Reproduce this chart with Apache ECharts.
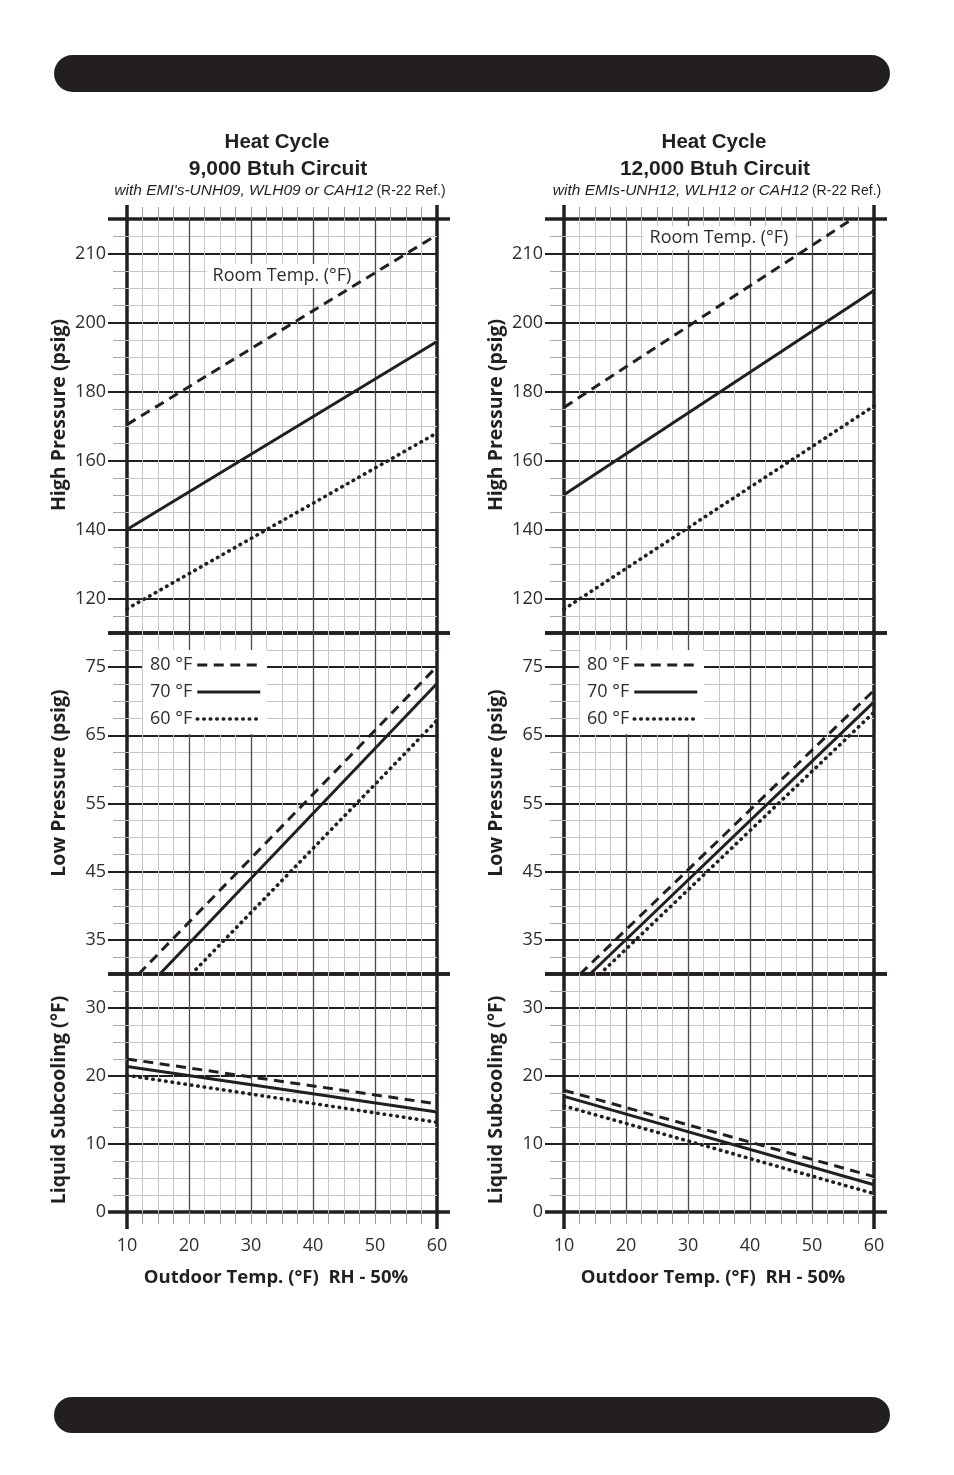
<!DOCTYPE html>
<html lang="en">
<head>
<meta charset="UTF-8">
<title>Heat Cycle charts</title>
<script src="https://cdn.jsdelivr.net/npm/echarts@6/dist/echarts.min.js"></script>
<style>
  html, body { margin: 0; padding: 0; background: #fff; }
  #chart { width: 954px; height: 1475px; }
</style>
</head>
<body>
<div id="chart"></div>
<script>
// room temperature curves (legend)
var roomTemps = ['80 °F', '70 °F', '60 °F'];

// y axis values that carry a label, and the text printed there
// (the original prints "210" on the 220 line)
var highTicks = [120, 140, 160, 180, 200, 220];
var highLabels = ['120', '140', '160', '180', '200', '210'];
var lowTicks = [35, 45, 55, 65, 75];
var subTicks = [0, 10, 20, 30];
var outdoorTicks = [10, 20, 30, 40, 50, 60];

// 9,000 Btuh circuit, [outdoor temp, value]
var high9k_80 = [[10, 170.4], [60, 225.4]];
var high9k_70 = [[10, 140.0], [60, 194.5]];
var high9k_60 = [[10, 117.0], [60, 168.0]];
var low9k_80 = [[11.9, 30], [60, 75.1]];
var low9k_70 = [[15.3, 30], [60, 72.6]];
var low9k_60 = [[20.4, 30], [60, 67.2]];
var sub9k_80 = [[10, 22.5], [60, 15.9]];
var sub9k_70 = [[10, 21.4], [60, 14.7]];
var sub9k_60 = [[10, 20.1], [60, 13.2]];

// 12,000 Btuh circuit
var high12k_80 = [[10, 175.4], [56.5, 230]];
var high12k_70 = [[10, 150.1], [60, 209.3]];
var high12k_60 = [[10, 116.9], [60, 175.8]];
var low12k_80 = [[12.6, 30], [60, 71.6]];
var low12k_70 = [[14.2, 30], [60, 69.9]];
var low12k_60 = [[15.8, 30], [60, 68.4]];
var sub12k_80 = [[10, 17.9], [60, 5.2]];
var sub12k_70 = [[10, 17.0], [60, 4.0]];
var sub12k_60 = [[10, 15.6], [60, 2.7]];

var INK = '#231f20';
var TXT = '#2d2d2d';
var MINOR = '#c6c6c6';
var FONT = '"Open Sans", sans-serif';
var HEAD = '"Liberation Sans", Arial, sans-serif';
var PLOT_W = 310;
var lineStyles = [
    { width: 3, type: [10, 6.5] },
    { width: 3, type: 'solid' },
    { width: 3.6, type: [0.5, 6], cap: 'round' }
];

var rows = [
    { name: 'High Pressure (psig)', min: 110, max: 230, step: 5, ticks: highTicks, text: highLabels, top: 219, height: 414, nameY: 415 },
    { name: 'Low Pressure (psig)', min: 30, max: 80, step: 2.5, ticks: lowTicks, text: null, top: 633, height: 341, nameY: 783 },
    { name: 'Liquid Subcooling (°F)', min: 0, max: 35, step: 2.5, ticks: subTicks, text: null, top: 974, height: 238, nameY: 1100 }
];

var panels = [
    { left: 127, circuit: '9,000 Btuh Circuit', models: "with EMI's-UNH09, WLH09 or CAH12", roomY: 276,
      data: [[high9k_80, high9k_70, high9k_60], [low9k_80, low9k_70, low9k_60], [sub9k_80, sub9k_70, sub9k_60]] },
    { left: 564, circuit: '12,000 Btuh Circuit', models: 'with EMIs-UNH12, WLH12 or CAH12', roomY: 238,
      data: [[high12k_80, high12k_70, high12k_60], [low12k_80, low12k_70, low12k_60], [sub12k_80, sub12k_70, sub12k_60]] }
];

var option = {
    animation: false,
    backgroundColor: '#fff',
    grid: [], xAxis: [], yAxis: [], series: [], legend: [], graphic: []
};

function hidden() { return { show: false }; }

function xAxisFor(g, pos, interval, tick, split, label) {
    return {
        type: 'value', gridIndex: g, position: pos, min: 10, max: 60, interval: interval,
        axisLine: hidden(),
        axisTick: tick || hidden(),
        axisLabel: label || hidden(),
        splitLine: split || hidden()
    };
}

panels.forEach(function (p) {
    var cx = p.left + PLOT_W / 2;
    rows.forEach(function (r, ri) {
        var g = option.grid.length;
        var isTop = ri === 0, isBottom = ri === rows.length - 1;
        option.grid.push({
            left: p.left, top: r.top, width: PLOT_W, height: r.height,
            show: true, borderWidth: 3.5, borderColor: INK, backgroundColor: 'rgba(0,0,0,0)'
        });

        var xi = option.xAxis.length;
        // minor verticals every 2.5
        option.xAxis.push(xAxisFor(g, 'bottom', 2.5,
            isBottom ? { show: true, length: 12, lineStyle: { color: '#9a9a9a', width: 1 } } : null,
            { show: true, showMinLine: false, showMaxLine: false, lineStyle: { color: MINOR, width: 1 } }));
        // major verticals every 10
        option.xAxis.push(xAxisFor(g, 'bottom', 10, null,
            { show: true, showMinLine: false, showMaxLine: false, lineStyle: { color: '#4a4a4a', width: 1.3 } },
            isBottom ? { show: true, margin: 25, fontSize: 18, color: TXT, fontFamily: FONT,
                         customValues: outdoorTicks } : null));
        if (isBottom) {
            option.xAxis.push(xAxisFor(g, 'bottom', 50,
                { show: true, customValues: [10, 60], length: 17, lineStyle: { color: INK, width: 3.5 } }));
        }
        if (isTop) {
            option.xAxis.push(xAxisFor(g, 'top', 2.5,
                { show: true, length: 12, lineStyle: { color: '#9a9a9a', width: 1 } }));
            option.xAxis.push(xAxisFor(g, 'top', 50,
                { show: true, customValues: [10, 60], length: 14, lineStyle: { color: INK, width: 3.5 } }));
        }

        var yi = option.yAxis.length;
        option.yAxis.push({
            type: 'value', gridIndex: g, position: 'left', min: r.min, max: r.max, interval: r.step,
            axisLine: hidden(), axisLabel: hidden(),
            axisTick: { show: true, length: 14, lineStyle: { color: '#a8a8a8', width: 1 } },
            splitLine: { show: true, showMinLine: false, showMaxLine: false, lineStyle: { color: MINOR, width: 1 } }
        });
        option.yAxis.push({
            type: 'value', gridIndex: g, position: 'left', min: r.min, max: r.max,
            axisLine: hidden(),
            axisTick: { show: true, customValues: r.ticks, length: 19, lineStyle: { color: INK, width: 2 } },
            axisLabel: {
                show: true, customValues: r.ticks, margin: 21, fontSize: 18, color: TXT, fontFamily: FONT,
                formatter: function (v) {
                    var i = r.ticks.indexOf(v);
                    if (i < 0) return '';
                    return r.text ? r.text[i] : String(v);
                }
            },
            splitLine: { show: true, lineStyle: { color: INK, width: 2 } }
        });
        ['left', 'right'].forEach(function (side) {
            option.yAxis.push({
                type: 'value', gridIndex: g, position: side, min: r.min, max: r.max,
                axisLine: hidden(), axisLabel: hidden(), splitLine: hidden(),
                axisTick: { show: true, customValues: [r.min, r.max], length: side === 'left' ? 19 : 13,
                            lineStyle: { color: INK, width: 3.5 } }
            });
        });

        p.data[ri].forEach(function (d, k) {
            option.series.push({
                type: 'line', name: roomTemps[k], xAxisIndex: xi, yAxisIndex: yi,
                data: d, symbol: 'none', silent: true, clip: true, z: 5,
                lineStyle: Object.assign({ color: INK }, lineStyles[k]),
                itemStyle: { color: INK }
            });
        });

        // axis title
        option.graphic.push({
            type: 'text', x: p.left - 68, y: r.nameY, rotation: Math.PI / 2, z: 10,
            style: { text: r.name, fontSize: 19.5, fontWeight: 'bold', fontFamily: FONT, fill: INK,
                     align: 'center', verticalAlign: 'middle' }
        });
    });

    option.legend.push({
        left: p.left + 16, top: 650, orient: 'vertical', align: 'right',
        data: roomTemps.map(function (name, k) {
            return { name: name, lineStyle: Object.assign({ color: INK }, lineStyles[k]) };
        }),
        selectedMode: false,
        itemWidth: 63, itemHeight: 18, itemGap: 9,
        padding: [6, 5, 6, 7], backgroundColor: '#fff',
        textStyle: { fontSize: 18, color: TXT, fontFamily: FONT },
        itemStyle: { opacity: 0 }
    });

    option.graphic.push(
        { type: 'text', x: cx - 5, y: 142, z: 10,
          style: { text: 'Heat Cycle', fontSize: 20.5, fontWeight: 'bold', fontFamily: HEAD, fill: INK, align: 'center', verticalAlign: 'middle' } },
        { type: 'text', x: cx - 4, y: 169, z: 10,
          style: { text: p.circuit, fontSize: 21, fontWeight: 'bold', fontFamily: HEAD, fill: INK, align: 'center', verticalAlign: 'middle' } },
        { type: 'text', x: cx - 2, y: 191, z: 10,
          style: {
              text: '{i|' + p.models + '} {r|(R-22 Ref.)}', align: 'center', verticalAlign: 'middle',
              rich: {
                  i: { fontSize: 15.5, fontStyle: 'italic', fontFamily: HEAD, fill: INK },
                  r: { fontSize: 14, fontFamily: HEAD, fill: INK }
              }
          } },
        { type: 'text', x: cx, y: p.roomY, z: 4,
          style: { text: 'Room Temp. (°F)', fontSize: 18, fontFamily: FONT, fill: TXT, align: 'center', verticalAlign: 'middle',
                   backgroundColor: '#fff', padding: [3, 6, 3, 6] } },
        { type: 'text', x: cx - 6, y: 1278, z: 10,
          style: { text: 'Outdoor Temp. (°F)  RH - 50%', fontSize: 18.5, fontWeight: 'bold', fontFamily: FONT, fill: INK,
                   align: 'center', verticalAlign: 'middle' } }
    );
});

// page banners
option.graphic.push(
    { type: 'rect', z: 10, shape: { x: 54, y: 55, width: 836, height: 37, r: 18.5 }, style: { fill: INK } },
    { type: 'rect', z: 10, shape: { x: 54, y: 1397, width: 836, height: 36, r: 18 }, style: { fill: INK } }
);

var myChart = echarts.init(document.getElementById('chart'), null, { renderer: 'canvas' });
myChart.setOption(option);
</script>
</body>
</html>
